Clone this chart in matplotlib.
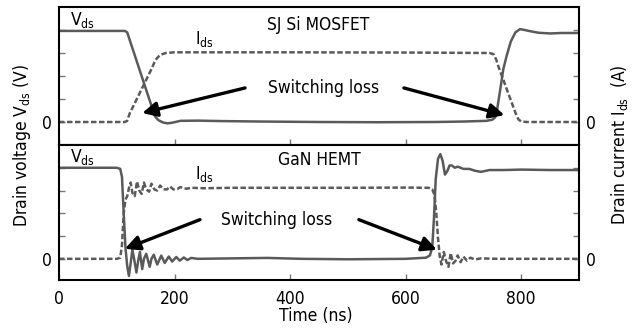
import matplotlib
matplotlib.use("Agg")
import matplotlib.pyplot as plt

plt.rcParams['font.family'] = ['DejaVu Sans']
plt.rcParams['font.stretch'] = 'condensed'

# ---- SJ Si MOSFET (top) ----
si_vds_t = [0, 114, 118, 166, 172, 180, 188, 196, 210, 240, 280, 350, 450, 550, 650, 700,
            740, 750, 755, 758, 763, 769, 775, 782, 790, 798, 806, 815, 830, 850, 870, 900]
si_vds_v = [3.96, 3.96, 3.9, 0.25, 0.08, -0.02, -0.06, -0.03, 0.05, 0.06, 0.04, 0.02, 0.0, -0.01, 0.0, 0.02,
            0.05, 0.1, 0.2, 0.5, 1.3, 2.3, 2.9, 3.5, 3.9, 4.04, 4.0, 3.95, 3.88, 3.85, 3.87, 3.87]
si_ids_t = [0, 114, 118, 122, 160, 167, 175, 185, 200, 400, 600, 745, 752, 757, 760, 790, 795, 800, 810, 900]
si_ids_v = [0, 0, 0.05, 0.35, 2.3, 2.7, 2.92, 3.0, 3.03, 3.03, 3.02, 3.0, 2.95, 2.7, 2.45, 0.4, 0.12, 0.02, 0, 0]

# ---- GaN HEMT (bottom) ----
gan_vds_t = [0, 100, 106, 109, 112, 115, 118, 121, 124, 127, 130, 134, 137, 140, 144, 147, 151, 157,
             160, 164, 170, 177, 183, 190, 196, 203, 209, 216, 222, 229, 240, 300, 360, 420, 500, 600,
             635, 642, 646, 649, 652, 656, 660, 664, 668, 672, 676, 680, 685, 690, 700, 710, 720, 730,
             745, 770, 800, 850, 900]
gan_vds_v = [4.0, 4.0, 3.95, 3.6, 2.0, 0.5, -0.3, -0.75, -0.2, 0.4, 0.0, -0.6, -0.1, 0.3, -0.45, 0.0, 0.22, -0.35,
             0.0, 0.18, -0.25, 0.14, -0.18, 0.1, -0.12, 0.08, -0.08, 0.06, -0.05, 0.04, 0.0, 0.02, 0.04, 0.0, -0.02, 0.0,
             0.05, 0.15, 0.5, 1.8, 3.5, 4.4, 4.6, 4.3, 3.7, 3.85, 4.1, 4.1, 4.0, 4.05, 3.95, 3.95, 3.87, 3.82,
             3.9, 3.9, 3.92, 3.9, 3.9]
gan_ids_t = [0, 100, 106, 109, 112, 115, 118, 121, 124, 127, 131, 135, 139, 143, 147, 151, 156, 160,
             165, 170, 175, 181, 187, 192, 198, 205, 210, 220, 230, 250, 300, 400, 500, 600, 640,
             646, 650, 653, 656, 659, 662, 666, 670, 674, 678, 682, 686, 690, 695, 700, 706, 712,
             720, 730, 760, 900]
gan_ids_v = [0, 0, 0.05, 0.6, 2.0, 2.6, 2.75, 3.1, 3.35, 2.9, 2.75, 3.4, 3.0, 2.85, 3.35, 3.05, 2.95, 3.3,
             3.05, 3.0, 3.22, 3.05, 3.05, 3.18, 3.05, 3.07, 3.15, 3.08, 3.12, 3.1, 3.12, 3.12, 3.12, 3.13, 3.12,
             3.05, 2.8, 2.0, 0.9, 0.1, -0.25, 0.3, -0.1, -0.35, 0.25, -0.2, -0.1, 0.15, -0.15, 0.1, -0.08, 0.05,
             -0.03, 0.02, 0.0, 0.0]

xticks = [0, 200, 400, 600, 800]
yticks = [0, 1, 2, 3, 4]
ytick_labels = ['0', '', '', '', '']

line_col = '#5a5a5a'
fs = 12.5

fig = plt.figure(figsize=(6.36, 3.35), dpi=100)
ax1 = fig.add_axes([59 / 636, 1 - 145 / 335, 520 / 636, 138 / 335])
ax2 = fig.add_axes([59 / 636, 1 - 280 / 335, 520 / 636, 135 / 335])


def sub(s, base):
    return r'$\mathregular{' + base + '_{' + s + '}}$'


for ax, (vt, vv, it, iv), ylim in [
        (ax1, (si_vds_t, si_vds_v, si_ids_t, si_ids_v), (-1.0, 5.0)),
        (ax2, (gan_vds_t, gan_vds_v, gan_ids_t, gan_ids_v), (-0.93, 5.0))]:
    ax.plot(vt, vv, color=line_col, lw=1.8, solid_joinstyle='round')
    ax.plot(it, iv, color=line_col, lw=1.8, dashes=(2.2, 1.0))
    ax.set_xlim(0, 900)
    ax.set_ylim(*ylim)
    ax.set_xticks(xticks)
    ax.set_yticks(yticks)
    ax.set_yticklabels(ytick_labels)
    ax.tick_params(direction='in', length=4, width=1, color='#777777',
                   left=True, right=True, labelleft=True, labelright=True,
                   labelsize=fs, pad=5)
    for sp in ax.spines.values():
        sp.set_linewidth(1.5)
        sp.set_color('black')

ax1.tick_params(axis='x', labelbottom=False)
ax2.set_xticklabels([str(v) for v in xticks])
ax2.tick_params(axis='x', labelsize=fs, pad=7)

# annotations top
ax1.text(40, 4.42, sub('ds', 'V'), fontsize=fs, ha='center', va='center')
ax1.text(251, 3.6, sub('ds', 'I'), fontsize=fs, ha='center', va='center')
ax1.text(448, 4.22, 'SJ Si MOSFET', fontsize=fs, ha='center', va='center')
ax1.text(458, 1.26, 'Switching loss', fontsize=fs, ha='center', va='baseline')
arrow = dict(arrowstyle='-|>', lw=2.4, color='black', mutation_scale=22, shrinkA=0, shrinkB=0)
ax1.annotate('', xy=(144, 0.39), xytext=(322, 1.48), arrowprops=arrow)
ax1.annotate('', xy=(771, 0.3), xytext=(597, 1.48), arrowprops=arrow)

# annotations bottom
ax2.text(40, 4.49, sub('ds', 'V'), fontsize=fs, ha='center', va='center')
ax2.text(251, 3.74, sub('ds', 'I'), fontsize=fs, ha='center', va='center')
ax2.text(450, 4.32, 'GaN HEMT', fontsize=fs, ha='center', va='center')
ax2.text(377, 1.5, 'Switching loss', fontsize=fs, ha='center', va='baseline')
ax2.annotate('', xy=(114, 0.44), xytext=(244, 1.72), arrowprops=arrow)
ax2.annotate('', xy=(654, 0.4), xytext=(519, 1.72), arrowprops=arrow)

fig.text(22 / 636, 1 - 145 / 335, 'Drain voltage ' + sub('ds', 'V') + ' (V)', fontsize=fs,
         rotation=90, ha='center', va='center')
fig.text(620 / 636, 1 - 145 / 335, 'Drain current ' + sub('ds', 'I') + '  (A)', fontsize=fs,
         rotation=90, ha='center', va='center')
fig.text(316 / 636, 1 - 316 / 335, 'Time (ns)', fontsize=fs, ha='center', va='center')

fig.savefig('out.png', dpi=100)
